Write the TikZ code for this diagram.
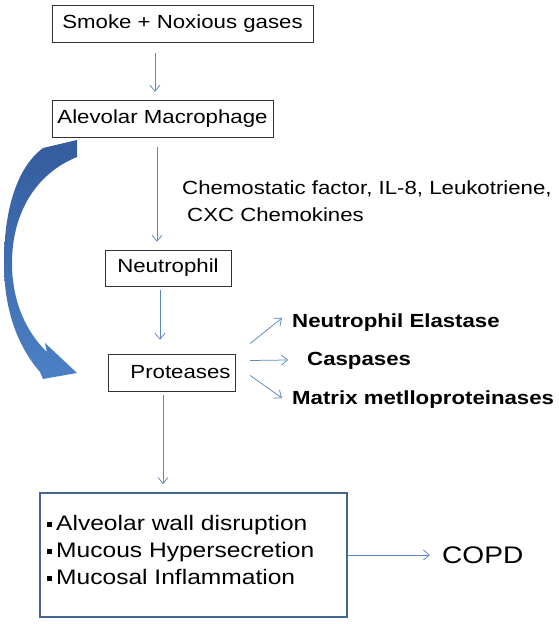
\documentclass[tikz,border=0pt]{standalone}
\usepackage{fontspec}
\setmainfont{Liberation Sans}[FakeStretch=1.17]
\usetikzlibrary{arrows.meta,positioning,calc}

\definecolor{arrowblue}{RGB}{92,134,196}
\definecolor{boxblue}{RGB}{70,102,146}
\definecolor{bigdark}{RGB}{52,92,158}
\definecolor{biglight}{RGB}{76,128,196}

\tikzset{
    box/.style={draw=black!80,thin,inner sep=0pt,font=\fontsize{19}{22}\selectfont},
    flow/.style={draw=arrowblue,line width=0.75pt,-{Straight Barb[length=6pt,width=10pt]}},
    enzyme/.style={anchor=west,inner sep=0pt,font=\bfseries\fontsize{19}{22}\selectfont}
}
\newcommand{\sqbullet}{\raisebox{3.5pt}{\rule{5pt}{5pt}}\hspace{4pt}}

\begin{document}
\begin{tikzpicture}[x=1pt,y=1pt]
    \useasboundingbox (0,0) rectangle (559,624);

    % Boxes of the pathway
    \node[box,minimum width=261,minimum height=37] (smoke) at (182.5,600.5) {Smoke + Noxious gases};
    \node[box,minimum width=221,minimum height=37] (macro) at (162.5,505.5) {Alevolar Macrophage};
    \node[box,minimum width=126,minimum height=36] (neutro) at (168,356) {Neutrophil};
    \node[box,minimum width=127,minimum height=37] (prot) at (171.5,251.5) {\hspace{18pt}Proteases};

    % Mediators
    \node[anchor=west,inner sep=0pt,align=left,font=\fontsize{19}{27}\selectfont] (chemo) at (182,422.5)
        {Chemostatic factor, IL-8, Leukotriene,\\ \hspace{5pt}CXC Chemokines};

    % Proteases
    \node[enzyme] (ela) at (292,301) {Neutrophil Elastase};
    \node[enzyme] (casp) at (307,263) {Caspases};
    \node[enzyme] (mmp) at (292,224) {Matrix metlloproteinases};

    % Effects
    \node[draw=boxblue,line width=1.8pt,minimum width=307,minimum height=124,inner sep=0pt] (effect) at (193.5,69) {};
    \node[anchor=west,align=left,inner sep=0pt,font=\fontsize{21}{27}\selectfont] (list) at (47,74.5)
        {\sqbullet Alveolar wall disruption\\
         \sqbullet Mucous Hypersecretion\\
         \sqbullet Mucosal Inflammation};
    \node[anchor=west,inner sep=0pt,font=\fontsize{24}{26}\selectfont] (copd) at (442,69) {COPD};

    % Arrows
    \draw[flow,shorten <=11pt,shorten >=8pt] ([xshift=-27.5pt]smoke.south) -- ([xshift=-27.5pt]smoke.south |- macro.north);
    \draw[flow,shorten <=10pt,shorten >=8pt] ([xshift=-5.5pt]macro.south) -- ([xshift=-5.5pt]macro.south |- neutro.north);
    \draw[flow,shorten <=4pt,shorten >=14pt] ([xshift=-8pt]neutro.south) -- ([xshift=-8pt]neutro.south |- prot.north);
    \draw[flow,shorten <=4pt,shorten >=8pt] ([xshift=-8.5pt]prot.south) -- ([xshift=-8.5pt]prot.south |- effect.north);
    \draw[flow] ([shift={(15,29)}]prot.east) -- ([shift={(-10,5)}]ela.west);
    \draw[flow] ([shift={(15,12)}]prot.east) -- ([shift={(-19,1)}]casp.west);
    \draw[flow] ([shift={(15,-3)}]prot.east) -- ([shift={(-10,2)}]mmp.west);
    \draw[flow] (effect.east) -- ([xshift=-12pt]copd.west);

    % Big curved arrow
    \shade[top color=bigdark,bottom color=biglight]
        (43,476) -- (77,484) -- (77,467)
        .. controls (35,450) and (12,410) .. (12,361)
        .. controls (12,320) and (28,290) .. (47,272)
        -- (45,281) -- (77,251) -- (43,245) -- (40,252)
        .. controls (20,275) and (4,310) .. (4,361)
        .. controls (4,410) and (15,455) .. (43,476) -- cycle;
\end{tikzpicture}
\end{document}
